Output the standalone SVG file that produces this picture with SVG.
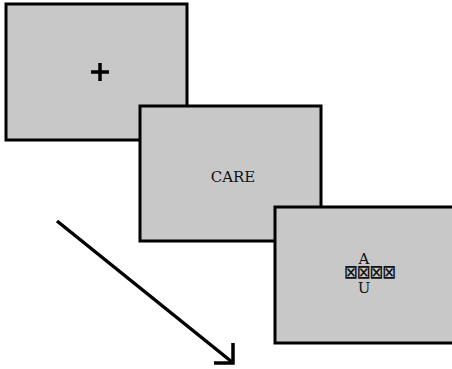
<svg xmlns="http://www.w3.org/2000/svg" width="452" height="369" viewBox="0 0 452 369">
  <style>
    .screen { fill: #c8c8c8; stroke: #000; stroke-width: 3; }
    .mono { font-family: "DejaVu Serif", "Liberation Serif", serif; font-size: 15px; fill: #111; text-anchor: middle; }
    .mask { font-family: "DejaVu Sans Mono", monospace; font-size: 24px; fill: #111; text-anchor: middle; }
    .line { stroke: #000; stroke-width: 3.5; fill: none; }
  </style>
  <rect width="452" height="369" fill="#fff"/>
  <!-- fixation screen -->
  <g id="fixation">
    <rect class="screen" x="6" y="4" width="181" height="136"/>
    <path class="line" d="M91 72 H109 M100 63 V81" stroke-width="3"/>
  </g>
  <!-- word screen -->
  <g id="word">
    <rect class="screen" x="140" y="106" width="181" height="135"/>
    <text class="mono" x="233" y="182">CARE</text>
  </g>
  <!-- mask and choice screen -->
  <g id="choice">
    <rect class="screen" x="275" y="207" width="190" height="136"/>
    <text class="mono" x="364" y="264">A</text>
    <text class="mask" x="370" y="280" textLength="51" lengthAdjust="spacingAndGlyphs">⊠⊠⊠⊠</text>
    <text class="mono" x="364" y="293">U</text>
  </g>
  <!-- time arrow -->
  <g id="connectors">
    <path class="line" d="M57 221 L232 362"/>
    <path class="line" d="M233 343 V363 H214"/>
  </g>
</svg>
